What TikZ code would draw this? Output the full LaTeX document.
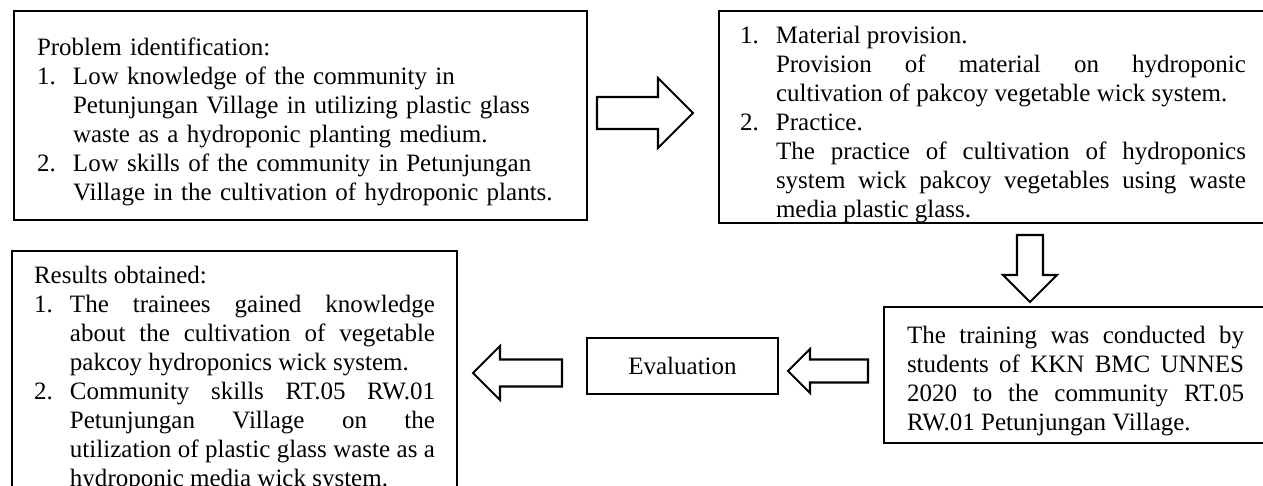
\documentclass[tikz,border=0pt]{standalone}
\usepackage{fontspec}
\setmainfont{Liberation Serif}
\usetikzlibrary{calc}

\setlength{\parskip}{0pt}
\hyphenpenalty=10000
\tolerance=10000
\hbadness=10000

\tikzset{
  flowbox/.style={draw, line width=1pt, inner ysep=0pt, outer sep=0pt, anchor=north west,
    font=\fontsize{12pt}{13.92pt}\selectfont},
  blockarrow/.style={draw, line width=1pt, line join=miter, fill=white}
}
% numbered line with hanging indent
\newcommand{\numitem}[2]{\noindent\hangindent=17.28pt\hangafter=1\makebox[17.28pt][l]{#1}#2\par}
% hollow block arrow: tip, angle, length, half body, half head
\newcommand{\blockarr}[5]{\draw[blockarrow, shift={#1}, rotate=#2] (0,0) -- (-#5,-#5) -- (-#5,-#4) -- (-#3,-#4) -- (-#3,#4) -- (-#5,#4) -- (-#5,#5) -- cycle;}

\begin{document}
\begin{tikzpicture}[x=0.48pt, y=-0.48pt]
\useasboundingbox (0,0) rectangle (1263,485);
\clip (0,0) rectangle (1263,485);
%boxes
\node[flowbox, text width=252.96pt, inner xsep=11.04pt, text height=21.12pt, text depth=79.2pt, align=left] (prob) at (14,11) {\noindent Problem identification:\par
\numitem{1.}{Low knowledge of the community in\newline Petunjungan Village in utilizing plastic glass\newline waste as a hydroponic planting medium.}
\numitem{2.}{Low skills of the community in Petunjungan\newline Village in the cultivation of hydroponic plants.}};

\node[flowbox, text width=242.88pt, inner xsep=10.08pt, text height=15.36pt, text depth=86.4pt, align=justify] (plan) at (719,11) {%
\numitem{1.}{Material provision.\newline Provision of material on hydroponic\linebreak cultivation of pakcoy vegetable wick system.}
\numitem{2.}{Practice.\newline The practice of cultivation of hydroponics\linebreak system wick pakcoy vegetables using waste\linebreak media plastic glass.}};

\node[flowbox, text width=161.76pt, inner xsep=11.04pt, text height=17.28pt, text depth=48pt, align=justify] (train) at (884,307) {%
The training was conducted by\linebreak students of KKN BMC UNNES\linebreak 2020 to the community RT.05\linebreak RW.01 Petunjungan Village.};

\node[flowbox, minimum width=91.68pt, minimum height=26.88pt, inner sep=0pt] (evalu) at (587,338) {Evaluation};

\node[flowbox, text width=192.48pt, inner xsep=10.56pt, text height=15.36pt, text depth=104.16pt, align=justify] (result) at (12,251) {\noindent Results obtained:\par
\numitem{1.}{The trainees gained knowledge\linebreak about the cultivation of vegetable\linebreak pakcoy hydroponics wick system.}
\numitem{2.}{Community skills RT.05 RW.01\linebreak Petunjungan Village on the\linebreak utilization of plastic glass waste as a\linebreak hydroponic media wick system.}};

%arrows
\blockarr{($(plan.west)+(-26,-4)$)}{0}{96}{16}{35}
\blockarr{($(train.north)+(-45.5,-5)$)}{-90}{67}{13}{27}
\blockarr{($(evalu.east)+(10,5)$)}{180}{80}{11.5}{22}
\blockarr{($(result.east)+(16,-2.5)$)}{180}{89}{13.5}{27}
\end{tikzpicture}
\end{document}
